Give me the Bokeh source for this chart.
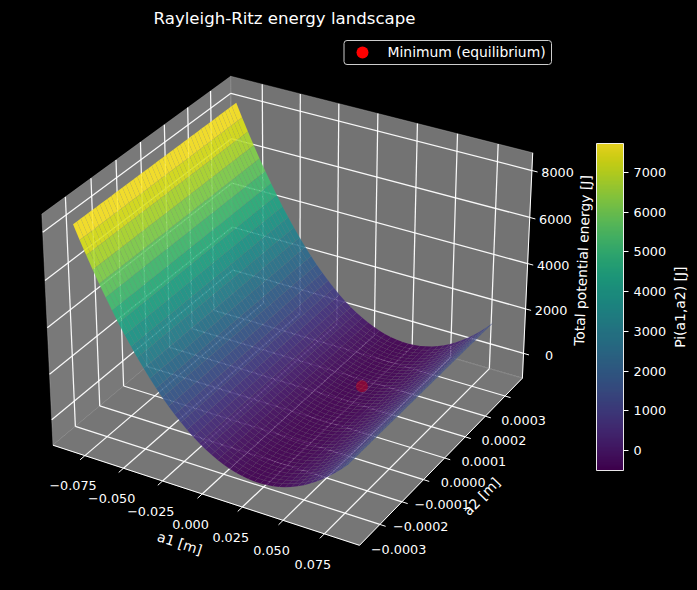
import numpy as np
from bokeh.plotting import figure
from bokeh.models import ColumnDataSource, LinearColorMapper, ColorBar, FixedTicker, Range1d
from bokeh.palettes import Viridis256
from bokeh.embed import file_html
from bokeh.resources import INLINE
from bokeh.core.properties import value

TITLE = "Rayleigh-Ritz energy landscape"
LEGEND_LABEL = "Minimum (equilibrium)"
a1_grid = [-0.0850, -0.0812, -0.0774, -0.0736, -0.0698, -0.0660, -0.0622, -0.0584, -0.0546, -0.0508, -0.0470, -0.0432,
           -0.0394, -0.0356, -0.0318, -0.0280, -0.0242, -0.0204, -0.0166, -0.0128, -0.0090, -0.0052, -0.0014, 0.0024,
           0.0062, 0.0100, 0.0138, 0.0176, 0.0214, 0.0252, 0.0290, 0.0328, 0.0366, 0.0404, 0.0442, 0.0480, 0.0518,
           0.0556, 0.0594, 0.0632, 0.0670, 0.0708, 0.0746, 0.0784, 0.0822]
pi_along_a1 = [8132, 7559, 7006, 6471, 5958, 5463, 4989, 4534, 4099, 3683, 3287, 2911,
               2554, 2217, 1900, 1603, 1325, 1067, 828, 609, 410, 231, 71, -69,
               -189, -290, -371, -433, -474, -496, -499, -481, -444, -387, -311, -215, -99,
               36, 191, 366, 560, 775, 1009, 1262, 1535]
a2_grid = [-0.000340, -0.000325, -0.000310, -0.000295, -0.000280, -0.000265, -0.000250, -0.000235, -0.000220, -0.000205,
           -0.000190, -0.000175, -0.000160, -0.000145, -0.000130, -0.000115, -0.000100, -0.000085, -0.000070, -0.000055,
           -0.000040, -0.000025, -0.000010, 0.000005, 0.000020, 0.000035, 0.000050, 0.000065, 0.000080, 0.000095,
           0.000110, 0.000125, 0.000140, 0.000155, 0.000170, 0.000185, 0.000200, 0.000215, 0.000230, 0.000245,
           0.000260, 0.000275, 0.000290, 0.000305, 0.000320, 0.000340]
min_a1, min_a2, min_pi = 0.0282, 0.00012, -500
a1_ticks = [-0.075, -0.050, -0.025, 0.000, 0.025, 0.050, 0.075]
a1_labels = ["\u22120.075", "\u22120.050", "\u22120.025", "0.000", "0.025", "0.050", "0.075"]
a2_ticks = [-0.0003, -0.0002, -0.0001, 0.0, 0.0001, 0.0002, 0.0003]
a2_labels = ["\u22120.0003", "\u22120.0002", "\u22120.0001", "0.0000", "0.0001", "0.0002", "0.0003"]
z_ticks = [0, 2000, 4000, 6000, 8000]
z_labels = ["0", "2000", "4000", "6000", "8000"]
cbar_ticks = [0, 1000, 2000, 3000, 4000, 5000, 6000, 7000]
cbar_low, cbar_high = -503, 7729

XLIM = (-0.096, 0.096)
YLIM = (-0.00039, 0.00039)
ZLIM = (-1131, 8746)
FONT = value("DejaVu Sans")
FS = value("12.8px")
FL = value("13.9px")

# mplot3d-like camera
BOX = np.array([1.1905, 1.1905, 0.8929])
EL, AZ, DIST = np.radians(30), np.radians(-60), 10.0
W = np.array([np.cos(EL) * np.cos(AZ), np.cos(EL) * np.sin(AZ), np.sin(EL)])
U = np.cross([0, 0, 1], W); U = U / np.linalg.norm(U)
V = np.cross(W, U)
SCALE, CX, CY = 2950.0, 291.5, 299.0


def proj(x, y, z):
    x, y, z = np.asarray(x, float), np.asarray(y, float), np.asarray(z, float)
    q = np.stack([(x - XLIM[0]) / (XLIM[1] - XLIM[0]) - 0.5,
                  (y - YLIM[0]) / (YLIM[1] - YLIM[0]) - 0.5,
                  (z - ZLIM[0]) / (ZLIM[1] - ZLIM[0]) - 0.5], axis=-1) * BOX
    d = DIST - q @ W
    return CX + SCALE * (q @ U) / d, CY - SCALE * (q @ V) / d, d


def seg(a, b):
    px, py, _ = proj([a[0], b[0]], [a[1], b[1]], [a[2], b[2]])
    return list(px), list(py)


def poly(pts):
    arr = np.array(pts, float)
    px, py, _ = proj(arr[:, 0], arr[:, 1], arr[:, 2])
    return list(px), list(py)


p = figure(width=681, height=574, x_range=Range1d(8, 689), y_range=Range1d(582, 8),
           output_backend="svg", toolbar_location=None, x_axis_location=None, y_axis_location=None,
           background_fill_color="black", border_fill_color="black", outline_line_color=None,
           min_border=0, match_aspect=False)
p.grid.visible = False

x0, x1 = XLIM; y0, y1 = YLIM; z0, z1 = ZLIM
# panes
left = poly([(x0, y0, z0), (x0, y1, z0), (x0, y1, z1), (x0, y0, z1)])
back = poly([(x0, y1, z0), (x1, y1, z0), (x1, y1, z1), (x0, y1, z1)])
floor = poly([(x0, y0, z0), (x1, y0, z0), (x1, y1, z0), (x0, y1, z0)])
p.patch(left[0], left[1], fill_color="#797979", line_color="#bbbbbb", line_width=0.6, line_alpha=0.6)
p.patch(back[0], back[1], fill_color="#737373", line_color="#bbbbbb", line_width=0.6, line_alpha=0.6)
p.patch(floor[0], floor[1], fill_color="#767676", line_color="#bbbbbb", line_width=0.6, line_alpha=0.6)

# grid lines
gx, gy = [], []
for t in a1_ticks:
    a, b = seg((t, y0, z0), (t, y1, z0)); gx.append(a); gy.append(b)
    a, b = seg((t, y1, z0), (t, y1, z1)); gx.append(a); gy.append(b)
for t in a2_ticks:
    a, b = seg((x0, t, z0), (x1, t, z0)); gx.append(a); gy.append(b)
    a, b = seg((x0, t, z0), (x0, t, z1)); gx.append(a); gy.append(b)
for t in z_ticks:
    a, b = seg((x0, y0, t), (x0, y1, t)); gx.append(a); gy.append(b)
    a, b = seg((x0, y1, t), (x1, y1, t)); gx.append(a); gy.append(b)
p.multi_line(gx, gy, line_color="#ffffff", line_width=1.25, line_alpha=0.95)

# axis lines and ticks
lx, ly = [], []
for a_, b_ in [((x0, y0, z0), (x1, y0, z0)), ((x1, y0, z0), (x1, y1, z0)), ((x1, y1, z0), (x1, y1, z1))]:
    a, b = seg(a_, b_); lx.append(a); ly.append(b)
xt = 0.025 * (y1 - y0); yt = 0.018 * (x1 - x0); zt = 0.018 * (x1 - x0)
lab_x, lab_y, lab_t = [], [], []
for t, s in zip(a1_ticks, a1_labels):
    a, b = seg((t, y0, z0), (t, y0 - xt, z0)); lx.append(a); ly.append(b)
    lab_x.append(a[1] - 7); lab_y.append(b[1] + 26); lab_t.append(s)
for t, s in zip(a2_ticks, a2_labels):
    a, b = seg((x1, t, z0), (x1 + yt, t, z0)); lx.append(a); ly.append(b)
    lab_x.append(a[1] + 13); lab_y.append(b[1] + 23); lab_t.append(s)
for t, s in zip(z_ticks, z_labels):
    a, b = seg((x1, y1, t), (x1 + zt, y1, t)); lx.append(a); ly.append(b)
    lab_x.append(a[1] + 20); lab_y.append(b[1] + 0.5); lab_t.append(s)
p.multi_line(lx, ly, line_color="white", line_width=1.0)
p.text(lab_x, lab_y, text=lab_t, text_color="white", text_font=FONT, text_font_size=FS,
       text_align="center", text_baseline="middle")

# surface
mapper = LinearColorMapper(palette=Viridis256, low=cbar_low, high=cbar_high)
polys = []
for i in range(len(a1_grid) - 1):
    for j in range(len(a2_grid) - 1):
        xa, xb = a1_grid[i], a1_grid[i + 1]
        ya, yb = a2_grid[j], a2_grid[j + 1]
        za, zb = pi_along_a1[i], pi_along_a1[i + 1]
        px, py, d = proj([xa, xb, xb, xa], [ya, ya, yb, yb], [za, zb, zb, za])
        polys.append((float(np.mean(d)), list(px), list(py), (za + zb) / 2))
polys.sort(key=lambda r: -r[0])
surf = ColumnDataSource(dict(xs=[r[1] for r in polys], ys=[r[2] for r in polys], z=[r[3] for r in polys]))
p.patches("xs", "ys", source=surf, fill_color={"field": "z", "transform": mapper}, fill_alpha=0.9,
          line_color="#9a9a9a", line_alpha=0.1, line_width=0.6)

# minimum marker (seen through the surface)
mx, my, _ = proj([min_a1], [min_a2], [min_pi])
p.scatter(list(mx), list(my), size=12, marker="circle", fill_color="red", fill_alpha=0.33, line_color=None)

# axis titles and title
p.text([179.3], [542.7], text=["a1 [m]"], angle=[-18], angle_units="deg", text_color="white", text_font=FONT,
       text_font_size=FL, text_align="center", text_baseline="middle")
p.text([481], [496], text=["a2 [m]"], angle=[46], angle_units="deg", text_color="white", text_font=FONT,
       text_font_size=FL, text_align="center", text_baseline="middle")
p.text([582], [260], text=["Total potential energy [J]"], angle=[87.6], angle_units="deg", text_color="white",
       text_font=FONT, text_font_size=FL, text_align="center", text_baseline="middle")
p.text([679.3], [306.7], text=["Pi(a1,a2) [J]"], angle=[90], angle_units="deg", text_color="white", text_font=FONT,
       text_font_size=FL, text_align="center", text_baseline="middle")
p.text([284], [18], text=[TITLE], text_color="white", text_font=FONT, text_font_size=value("16.6px"),
       text_align="center", text_baseline="middle")

# legend
p.quad(left=[343.5], right=[551], top=[40], bottom=[64], fill_color="black", fill_alpha=0.8, line_color="#cccccc",
       line_width=1, border_radius=3)
p.scatter([362], [52], size=12, marker="circle", fill_color="red", line_color=None)
p.text([387], [51], text=[LEGEND_LABEL], text_color="white", text_font=FONT, text_font_size=FL,
       text_align="left", text_baseline="middle")

cb = ColorBar(color_mapper=mapper, ticker=FixedTicker(ticks=cbar_ticks), width=27, height=327, padding=0, margin=0,
              location=(588, 112), background_fill_alpha=0, border_line_color=None, bar_line_color="white",
              bar_line_width=1, major_tick_line_color="white", major_tick_in=0, major_tick_out=5, minor_tick_line_color=None,
              major_label_text_color="white", major_label_text_font="DejaVu Sans", major_label_text_font_size="12.8px",
              label_standoff=5, scale_alpha=0.9)
p.add_layout(cb, "center")

html = file_html(p, INLINE)
html = html.replace("<head>", "<head><style>html,body{background:#000 !important;overflow:hidden}body{margin:8px !important;height:auto !important}</style>", 1)
open("out.html", "w").write(html)
